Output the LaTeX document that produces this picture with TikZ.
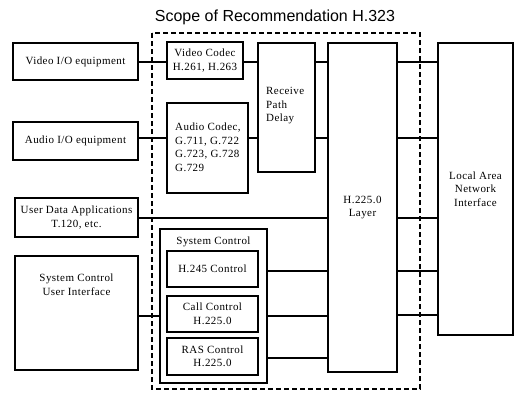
\documentclass[tikz,border=0pt]{standalone}
\usepackage{fontspec}
\setmainfont[LetterSpace=4]{Liberation Serif}
\newfontfamily\titlefont{Liberation Sans}
\usetikzlibrary{calc}
\begin{document}
\begin{tikzpicture}[x=1pt,y=-1pt,
  box/.style={draw,line width=1.3pt,rectangle,inner sep=0pt,align=center,
    font=\fontsize{11}{13.5}\selectfont},
  txt/.style={inner sep=0pt,align=center,font=\fontsize{11}{13.5}\selectfont},
  conn/.style={line width=1.1pt},
  scope/.style={line width=1.1pt,dash pattern=on 5pt off 3pt}]
\useasboundingbox (0,0) rectangle (515,392);
% title
\node[inner sep=0pt,font=\titlefont\fontsize{16}{18}\selectfont] (title) at (275,17) {Scope of Recommendation H.323};
% scope boundary
\draw[scope] (152,33) rectangle (420,389);
% rows
\coordinate (r1) at (0,62);
\coordinate (r2) at (0,138);
\coordinate (r3) at (0,218);
\coordinate (r4) at (0,271);
\coordinate (r5) at (0,316);
\coordinate (r6) at (0,358);
\coordinate (r5b) at (0,315);
% left boxes
\node[box,minimum width=125pt,minimum height=37pt] (vio) at (75.5,61.5) {Video I/O equipment};
\node[box,minimum width=125pt,minimum height=38pt] (aio) at (75.5,141) {Audio I/O equipment};
\node[box,minimum width=123pt,minimum height=39pt] (ud) at (76.5,217.5) {User Data Applications\\T.120, etc.};
\node[box,minimum width=123pt,minimum height=114pt] (scui) at (76.5,313) {};
\node[txt] (scuitxt) at (76.5,284.5) {System Control\\User Interface};
% codecs
\node[box,minimum width=76pt,minimum height=37pt] (vcod) at (205,60.5) {Video Codec\\H.261, H.263};
\node[box,minimum width=81pt,minimum height=90pt] (acod) at (207.5,148) {};
\node[txt,align=left,anchor=west] (acodtxt) at (175,147.5) {Audio Codec,\\G.711, G.722\\G.723, G.728\\G.729};
% receive path delay
\node[box,minimum width=57pt,minimum height=129pt] (rpd) at (286.5,107.5) {};
\node[txt,align=left,anchor=west] (rpdtxt) at (266,106) {Receive\\Path\\Delay};
% H.225.0 layer
\node[box,minimum width=69pt,minimum height=329pt] (h225) at (362.5,207.5) {H.225.0\\Layer};
% LAN interface
\node[box,minimum width=75pt,minimum height=292pt] (lan) at (475.5,189) {Local Area\\Network\\Interface};
% system control group
\node[box,minimum width=107pt,minimum height=154pt] (sc) at (213.5,306) {};
\node[txt] (sctxt) at (213.5,242) {System Control};
\node[box,minimum width=91pt,minimum height=36pt] (h245) at (212.5,269) {H.245 Control};
\node[box,minimum width=91pt,minimum height=36pt] (call) at (212.5,314) {Call Control\\H.225.0};
\node[box,minimum width=91pt,minimum height=37pt] (ras) at (212.5,356.5) {RAS Control\\H.225.0};
% connectors
\draw[conn] (vio.east |- r1) -- (vcod.west |- r1);
\draw[conn] (vcod.east |- r1) -- (rpd.west |- r1);
\draw[conn] (rpd.east |- r1) -- (h225.west |- r1);
\draw[conn] (h225.east |- r1) -- (lan.west |- r1);
\draw[conn] (aio.east |- r2) -- (acod.west |- r2);
\draw[conn] (acod.east |- r2) -- (rpd.west |- r2);
\draw[conn] (rpd.east |- r2) -- (h225.west |- r2);
\draw[conn] (h225.east |- r2) -- (lan.west |- r2);
\draw[conn] (ud.east |- r3) -- (h225.west |- r3);
\draw[conn] (h225.east |- r3) -- (lan.west |- r3);
\draw[conn] (sc.east |- r4) -- (h225.west |- r4);
\draw[conn] (sc.east |- r5) -- (h225.west |- r5);
\draw[conn] (sc.east |- r6) -- (h225.west |- r6);
\draw[conn] (h225.east |- r4) -- (lan.west |- r4);
\draw[conn] (h225.east |- r5b) -- (lan.west |- r5b);
\draw[conn] (scui.east |- r5) -- (sc.west |- r5);
\end{tikzpicture}
\end{document}
